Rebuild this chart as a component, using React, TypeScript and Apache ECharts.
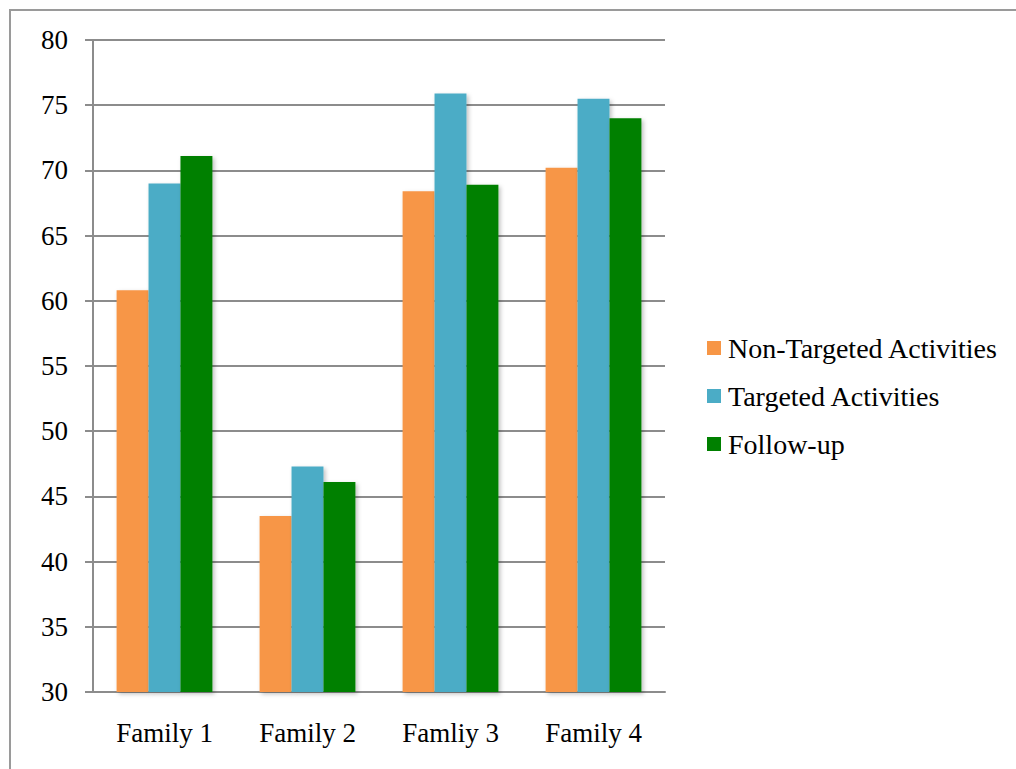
import React, { useEffect, useRef } from 'react';
import * as echarts from 'echarts';

const families = ['Family 1', 'Family 2', 'Famliy 3', 'Family 4'];
const nonTargeted = [60.8, 43.5, 68.4, 70.2];
const targeted = [69.0, 47.3, 75.9, 75.5];
const followUp = [71.1, 46.1, 68.9, 74.0];

const FONT = 'Liberation Serif';

const App: React.FC = () => {
  const chartRef = useRef<HTMLDivElement>(null);

  useEffect(() => {
    if (!chartRef.current) return;
    const chart = echarts.init(chartRef.current, undefined, { renderer: 'svg' });

    const barStyle = (color: string) => ({
      color,
      shadowColor: 'rgba(0,0,0,0.25)',
      shadowBlur: 4,
      shadowOffsetX: 2,
      shadowOffsetY: 2
    });

    const labelStyle = { fontFamily: FONT, fontSize: 27, color: '#000' };

    const option: echarts.EChartsOption = {
      animation: false,
      backgroundColor: '#fff',
      textStyle: { fontFamily: FONT },
      graphic: [
        {
          type: 'rect',
          shape: { x: 10, y: 10, width: 1100, height: 900 },
          style: { fill: 'none', stroke: '#9a9a9a', lineWidth: 2 },
          silent: true
        }
      ],
      grid: { left: 93, right: 351, top: 40, bottom: 77 },
      legend: {
        orient: 'vertical',
        left: 702,
        top: 329,
        itemWidth: 14,
        itemHeight: 14,
        itemGap: 20,
        icon: 'rect',
        textStyle: { ...labelStyle, fontSize: 28, padding: [0, 0, 0, 2] },
        data: ['Non-Targeted Activities', 'Targeted Activities', 'Follow-up']
      },
      xAxis: {
        type: 'category',
        data: families,
        axisLine: { lineStyle: { color: '#8c8c8c', width: 2 } },
        axisTick: { show: false },
        axisLabel: { ...labelStyle, margin: 27 }
      },
      yAxis: {
        type: 'value',
        min: 30,
        max: 80,
        interval: 5,
        axisLine: { show: true, lineStyle: { color: '#8c8c8c', width: 2 } },
        axisTick: { show: true, inside: false, length: 8, lineStyle: { color: '#8c8c8c', width: 2 } },
        splitLine: { lineStyle: { color: '#8c8c8c', width: 2 } },
        axisLabel: { ...labelStyle, margin: 25 }
      },
      series: [
        {
          name: 'Non-Targeted Activities',
          type: 'bar',
          data: nonTargeted,
          barGap: '0%',
          barCategoryGap: '33%',
          itemStyle: barStyle('#F79646')
        },
        {
          name: 'Targeted Activities',
          type: 'bar',
          data: targeted,
          barGap: '0%',
          barCategoryGap: '33%',
          itemStyle: barStyle('#4BACC6')
        },
        {
          name: 'Follow-up',
          type: 'bar',
          data: followUp,
          barGap: '0%',
          barCategoryGap: '33%',
          itemStyle: barStyle('#008000')
        }
      ]
    };

    chart.setOption(option);

    return () => {
      chart.dispose();
    };
  }, []);

  return (
    <div
      ref={chartRef}
      style={{
        position: 'absolute',
        left: 0,
        top: 0,
        width: '1016px',
        height: '769px',
        background: '#fff'
      }}
    />
  );
};

export default App;
